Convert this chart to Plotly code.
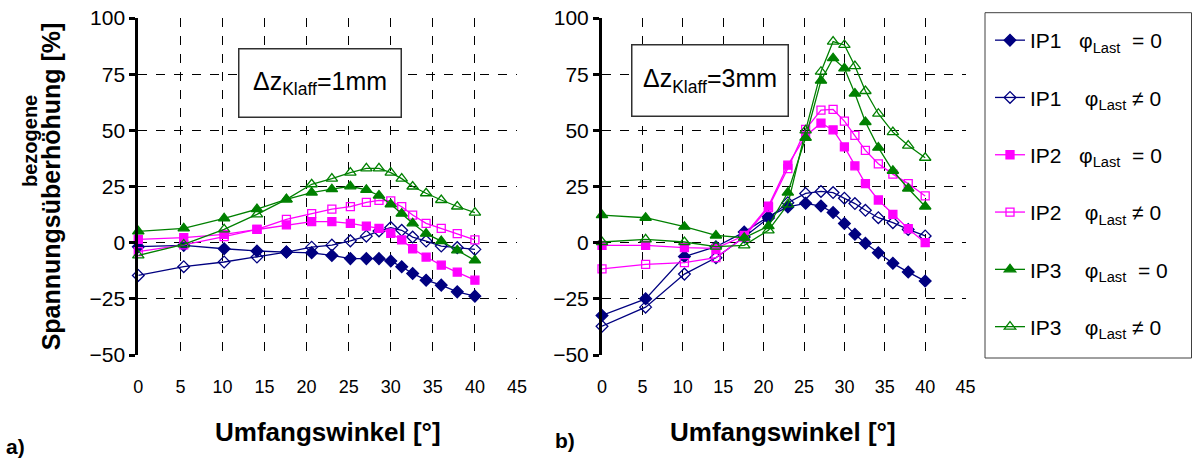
import plotly.graph_objects as go

# Circumferential angle of the measuring points [deg]
angle = [0, 5.4, 10.2, 14.1, 17.6, 20.6, 23.0, 25.2, 27.1, 28.6, 30.0, 31.3, 32.6, 34.2, 36.0, 37.9, 40.0]

# a) gap 1 mm
a_ip1_phi0 = [-1.8, -1.2, -2.7, -3.7, -4.2, -4.5, -5.7, -7.1, -7.1, -7.1, -8.2, -10.7, -13.7, -16.7, -18.9, -21.9, -23.8]
a_ip1_phi1 = [-14.6, -10.7, -8.6, -6.4, -4.2, -2.0, -1.1, 0.8, 2.9, 5.2, 6.7, 5.5, 2.5, 0.7, -1.5, -2.2, -3.0]
a_ip2_phi0 = [1.5, 2.2, 3.7, 5.9, 7.9, 9.4, 9.4, 8.6, 7.4, 6.4, 4.2, 1.2, -2.7, -6.4, -10.0, -13.1, -16.7]
a_ip2_phi1 = [-4.0, -1.0, 2.7, 5.9, 10.4, 12.9, 14.9, 16.0, 17.9, 18.8, 18.6, 16.0, 12.3, 8.6, 6.4, 4.0, 1.2]
a_ip3_phi0 = [5.0, 6.4, 10.8, 14.9, 19.3, 22.3, 23.8, 25.1, 23.5, 21.0, 17.1, 12.9, 8.6, 4.0, 0.7, -3.4, -7.9]
a_ip3_phi1 = [-5.7, -0.8, 5.9, 12.6, 19.3, 26.0, 28.5, 31.2, 33.1, 33.1, 31.2, 28.5, 25.0, 22.0, 19.0, 16.1, 13.4]

# b) gap 3 mm
b_ip1_phi0 = [-32.4, -25.0, -6.2, -1.8, 4.7, 11.6, 15.9, 17.5, 16.3, 13.4, 8.5, 3.7, -0.3, -4.5, -9.2, -13.1, -17.1]
b_ip1_phi1 = [-37.2, -28.7, -14.0, -6.7, 2.5, 11.0, 17.8, 21.9, 22.8, 22.3, 19.8, 17.4, 14.4, 11.1, 8.9, 5.9, 3.0]
b_ip2_phi0 = [-1.2, -1.2, -2.2, -2.5, 3.2, 16.3, 34.5, 47.5, 53.2, 50.2, 42.6, 34.2, 26.3, 19.0, 12.6, 6.2, 0.0]
b_ip2_phi1 = [-11.7, -9.7, -8.9, -6.7, 2.5, 15.6, 33.0, 50.4, 59.0, 59.3, 54.1, 47.8, 41.1, 35.1, 30.5, 26.3, 20.8]
b_ip3_phi0 = [12.3, 11.1, 7.1, 3.2, 2.2, 7.4, 22.3, 46.7, 72.1, 82.1, 77.6, 66.4, 53.7, 42.3, 32.0, 24.1, 16.1]
b_ip3_phi1 = [0.3, 1.5, 0.3, -1.8, -1.2, 5.5, 17.0, 50.0, 76.1, 89.5, 88.0, 78.6, 67.5, 57.4, 49.2, 43.2, 37.8]

x_ticks = [0, 5, 10, 15, 20, 25, 30, 35, 40, 45]
y_ticks = [-50, -25, 0, 25, 50, 75, 100]

legend_names = [
    "IP1   φ<sub>Last</sub>  = 0",
    "IP1    φ<sub>Last</sub> ≠ 0",
    "IP2   φ<sub>Last</sub>  = 0",
    "IP2    φ<sub>Last</sub> ≠ 0",
    "IP3    φ<sub>Last</sub>  = 0",
    "IP3    φ<sub>Last</sub> ≠ 0",
]

NAVY = "#000080"
MAGENTA = "#FF00FF"
GREEN = "#008000"
styles = [
    (NAVY, "diamond", 9),
    (NAVY, "diamond-open", 9),
    (MAGENTA, "square", 8),
    (MAGENTA, "square-open", 8),
    (GREEN, "triangle-up", 10),
    (GREEN, "triangle-up-open", 10),
]

FONT = "Liberation Sans, Arial, sans-serif"
W, H = 1192, 459

fig = go.Figure()

panels = [
    ("x", "y", [a_ip1_phi0, a_ip1_phi1, a_ip2_phi0, a_ip2_phi1, a_ip3_phi0, a_ip3_phi1], True),
    ("x2", "y2", [b_ip1_phi0, b_ip1_phi1, b_ip2_phi0, b_ip2_phi1, b_ip3_phi0, b_ip3_phi1], False),
]
for xa, ya, series, show in panels:
    for i, vals in enumerate(series):
        color, symbol, size = styles[i]
        fig.add_trace(go.Scatter(
            x=angle, y=vals, xaxis=xa, yaxis=ya,
            mode="lines+markers",
            name=legend_names[i],
            legendgroup=f"g{i}",
            showlegend=show,
            line=dict(color=color, width=1.3),
            marker=dict(symbol=symbol, size=size, color=color,
                        line=dict(color=color, width=1.3)),
            cliponaxis=False,
        ))

y_dom = [(H - 355) / H, (H - 18) / H]

axis_common = dict(
    showgrid=True, gridcolor="black", griddash="dash", gridwidth=1,
    zeroline=False,
)
xaxis_common = dict(
    axis_common, range=[0, 45], tickvals=x_ticks, showline=False,
    ticks="", ticklabelstandoff=19,
    tickfont=dict(family="Liberation Sans Narrow, Arial Narrow, " + FONT, size=18, color="black"),
)
yaxis_common = dict(
    axis_common, range=[-50, 100], tickvals=y_ticks,
    showline=True, linecolor="black", linewidth=3,
    ticks="outside", ticklen=6, tickwidth=3, tickcolor="black",
    tickfont=dict(family=FONT, size=21, color="black"),
)

fig.update_layout(
    width=W, height=H,
    margin=dict(l=0, r=0, t=0, b=0, autoexpand=False),
    paper_bgcolor="white", plot_bgcolor="white",
    showlegend=True,
    xaxis=dict(xaxis_common, domain=[138.3 / W, 517 / W], anchor="y"),
    yaxis=dict(yaxis_common, domain=y_dom, anchor="x",
               title=dict(text="<b>Spannungsüberhöhung [%]</b>", standoff=22,
                          font=dict(family=FONT, size=25, color="black"))),
    xaxis2=dict(xaxis_common, domain=[602 / W, 965.6 / W], anchor="y2"),
    yaxis2=dict(yaxis_common, domain=y_dom, anchor="x2"),
    legend=dict(
        x=990 / W, y=1 - 20 / H, xanchor="left", yanchor="top",
        borderwidth=0, bgcolor="rgba(0,0,0,0)",
        font=dict(family=FONT, size=21, color="black"),
        tracegroupgap=27, entrywidth=145, entrywidthmode="pixels",
        itemwidth=30,
    ),
)

# Frame around the legend
fig.add_shape(type="rect", xref="paper", yref="paper",
              x0=985 / W, x1=1191.5 / W, y0=1 - 358 / H, y1=1 - 12.7 / H,
              line=dict(color="#404040", width=1), fillcolor="rgba(0,0,0,0)",
              layer="below")

# Gap annotations in boxes
for cx, cy, w, h, txt in [
    (319.5, 82.5, 161, 67, "Δz<sub>Klaff</sub>=1mm"),
    (709.5, 80, 155, 70, "Δz<sub>Klaff</sub>=3mm"),
]:
    fig.add_annotation(
        xref="paper", yref="paper", x=cx / W, y=1 - cy / H,
        xanchor="center", yanchor="middle", showarrow=False,
        text=txt, font=dict(family=FONT, size=25, color="black"),
        bgcolor="white", bordercolor="#303030", borderwidth=1.5, borderpad=0,
        width=w, height=h,
    )

# Axis titles and panel labels
title_font = dict(family=FONT, size=20, color="black")
for cx, cy in [(328, 432), (783, 432)]:
    fig.add_annotation(xref="paper", yref="paper", x=cx / W, y=1 - cy / H,
                       xanchor="center", yanchor="middle", showarrow=False,
                       text="<b>Umfangswinkel [°]</b>",
                       font=dict(family=FONT, size=26, color="black"))
fig.add_annotation(xref="paper", yref="paper", x=30 / W, y=1 - 141 / H,
                   xanchor="center", yanchor="middle", showarrow=False, textangle=-90,
                   text="<b>bezogene</b>", font=title_font)
fig.add_annotation(xref="paper", yref="paper", x=4 / W, y=1 - 446 / H,
                   xanchor="left", yanchor="middle", showarrow=False,
                   text="<b>a)</b>", font=dict(family=FONT, size=21, color="black"))
fig.add_annotation(xref="paper", yref="paper", x=553 / W, y=1 - 440 / H,
                   xanchor="left", yanchor="middle", showarrow=False,
                   text="<b>b)</b>", font=dict(family=FONT, size=21, color="black"))

fig.write_html("out.html")
